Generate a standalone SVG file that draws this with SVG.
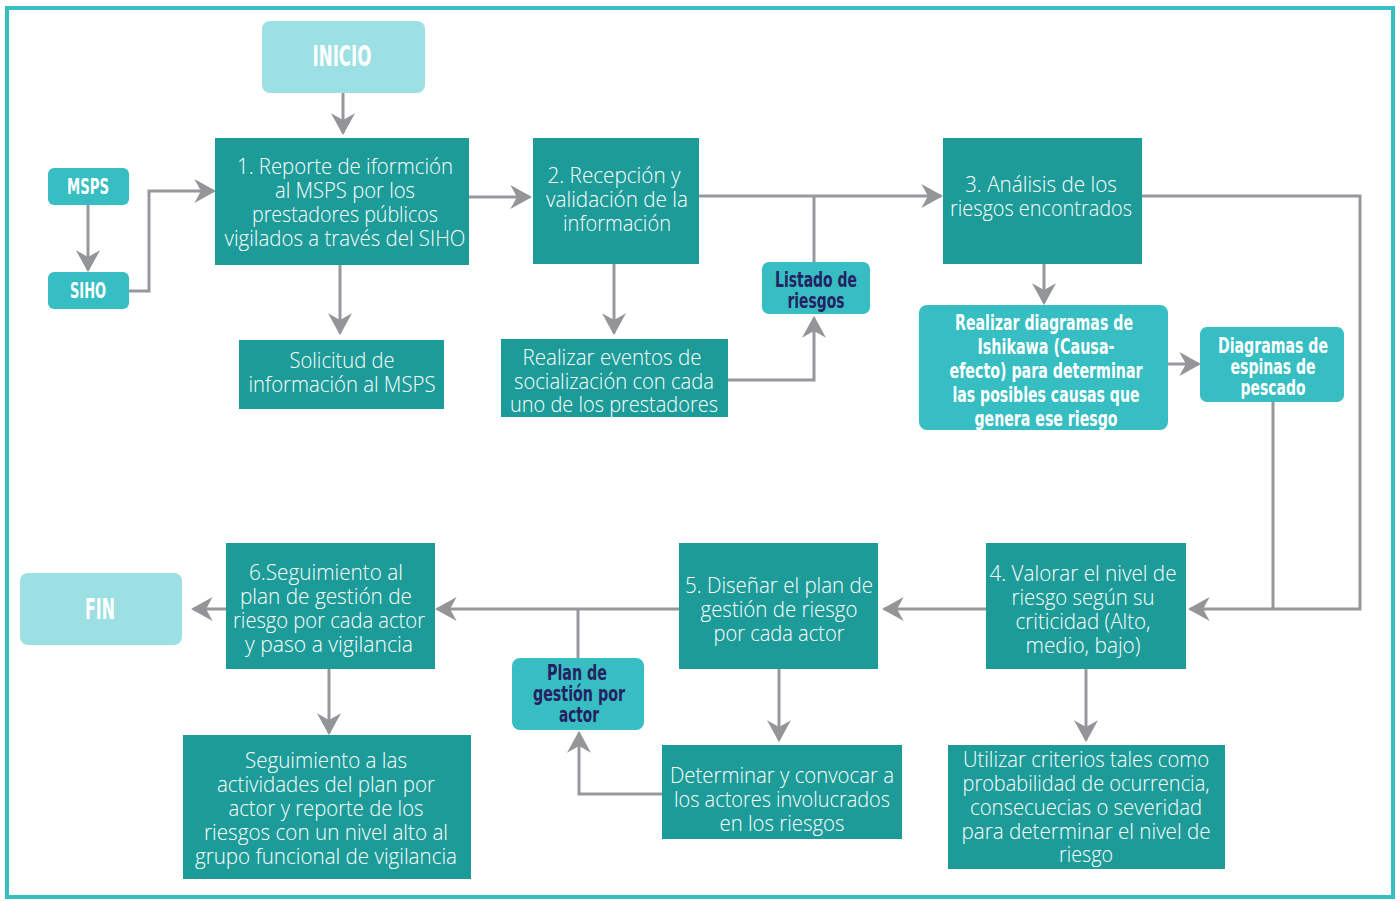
<svg xmlns="http://www.w3.org/2000/svg" width="1400" height="901" viewBox="0 0 1400 901">
<style>
.frame{fill:#fff;stroke:#36bec2;stroke-width:4}
.dk{fill:#1c9b98}
.md{fill:#36bec2}
.lt{fill:#9de0e3}
.t{font-family:"Open Sans","Liberation Sans",sans-serif;font-weight:300;font-size:22px;fill:#fff;text-anchor:middle}
.b{font-family:"DejaVu Sans Condensed","DejaVu Sans","Liberation Sans",sans-serif;font-weight:700;font-size:21px;fill:#fff;text-anchor:middle}
.n{fill:#262262}
.big{font-size:29px}
.c{fill:none;stroke:#97989b;stroke-width:3}
</style>
<defs>
<marker id="ah" markerUnits="userSpaceOnUse" markerWidth="22" markerHeight="24" viewBox="0 0 20 22" refX="18" refY="11" orient="auto">
<path d="M0,0 L20,11 L0,22 L6,11 z" fill="#939598"/>
</marker>
</defs>
<rect class="frame" x="7" y="8" width="1386" height="889"/>

<g id="connectors">
<path class="c" d="M343,76 V133" marker-end="url(#ah)"/>
<path class="c" d="M88,205 V270" marker-end="url(#ah)"/>
<path class="c" d="M129,291 H149 V191 H214" marker-end="url(#ah)"/>
<path class="c" d="M340,265 V333" marker-end="url(#ah)"/>
<path class="c" d="M469,197 H530" marker-end="url(#ah)"/>
<path class="c" d="M699,196 H941" marker-end="url(#ah)"/>
<path class="c" d="M814,196 V262"/>
<path class="c" d="M614,264 V333" marker-end="url(#ah)"/>
<path class="c" d="M728,380 H814 V318" marker-end="url(#ah)"/>
<path class="c" d="M1142,196 H1360 V609 H1190" marker-end="url(#ah)"/>
<path class="c" d="M1044,264 V303" marker-end="url(#ah)"/>
<path class="c" d="M1168,364 H1199" marker-end="url(#ah)"/>
<path class="c" d="M1273,402 V609"/>
<path class="c" d="M1086,669 V740" marker-end="url(#ah)"/>
<path class="c" d="M986,609 H884" marker-end="url(#ah)"/>
<path class="c" d="M679,609 H437" marker-end="url(#ah)"/>
<path class="c" d="M578,609 V658"/>
<path class="c" d="M779,669 V740" marker-end="url(#ah)"/>
<path class="c" d="M662,794 H579 V733" marker-end="url(#ah)"/>
<path class="c" d="M226,609 H193" marker-end="url(#ah)"/>
<path class="c" d="M329,669 V733" marker-end="url(#ah)"/>
</g>

<g id="inicio">
<rect class="lt" x="262" y="21" width="163" height="72" rx="8"/>
<text class="b big" x="342" y="66" textLength="59" lengthAdjust="spacingAndGlyphs">INICIO</text>
</g>
<g id="msps">
<rect class="md" x="48" y="168" width="81" height="37" rx="6"/>
<text class="b" x="88" y="194" textLength="42" lengthAdjust="spacingAndGlyphs">MSPS</text>
</g>
<g id="siho">
<rect class="md" x="48" y="272" width="81" height="37" rx="6"/>
<text class="b" x="88" y="298" textLength="36" lengthAdjust="spacingAndGlyphs">SIHO</text>
</g>
<g id="paso1">
<rect class="dk" x="215" y="138" width="254" height="127"/>
<text class="t" x="345" y="174" textLength="216" lengthAdjust="spacingAndGlyphs">1. Reporte de iformción</text>
<text class="t" x="345" y="198" textLength="140" lengthAdjust="spacingAndGlyphs">al MSPS por los</text>
<text class="t" x="345" y="222" textLength="186" lengthAdjust="spacingAndGlyphs">prestadores públicos</text>
<text class="t" x="345" y="246" textLength="241" lengthAdjust="spacingAndGlyphs">vigilados a través del SIHO</text>
</g>
<g id="solicitud">
<rect class="dk" x="239" y="340" width="205" height="69"/>
<text class="t" x="342" y="368" textLength="105" lengthAdjust="spacingAndGlyphs">Solicitud de</text>
<text class="t" x="342" y="392" textLength="187" lengthAdjust="spacingAndGlyphs">información al MSPS</text>
</g>
<g id="paso2">
<rect class="dk" x="533" y="138" width="166" height="126"/>
<text class="t" x="614" y="183" textLength="133" lengthAdjust="spacingAndGlyphs">2. Recepción y</text>
<text class="t" x="617" y="207" textLength="142" lengthAdjust="spacingAndGlyphs">validación de la</text>
<text class="t" x="617" y="231" textLength="108" lengthAdjust="spacingAndGlyphs">información</text>
</g>
<g id="eventos">
<rect class="dk" x="501" y="339" width="227" height="78"/>
<text class="t" x="612" y="365" textLength="179" lengthAdjust="spacingAndGlyphs">Realizar eventos de</text>
<text class="t" x="614" y="389" textLength="200" lengthAdjust="spacingAndGlyphs">socialización con cada</text>
<text class="t" x="614" y="412" textLength="208" lengthAdjust="spacingAndGlyphs">uno de los prestadores</text>
</g>
<g id="listado">
<rect class="md" x="762" y="262" width="108" height="52" rx="7"/>
<text class="b n" x="816" y="287" textLength="82" lengthAdjust="spacingAndGlyphs">Listado de</text>
<text class="b n" x="816" y="308" textLength="57" lengthAdjust="spacingAndGlyphs">riesgos</text>
</g>
<g id="paso3">
<rect class="dk" x="943" y="138" width="199" height="126"/>
<text class="t" x="1041" y="192" textLength="152" lengthAdjust="spacingAndGlyphs">3. Análisis de los</text>
<text class="t" x="1041" y="216" textLength="182" lengthAdjust="spacingAndGlyphs">riesgos encontrados</text>
</g>
<g id="ishikawa">
<rect class="md" x="919" y="305" width="249" height="125" rx="8"/>
<text class="b" x="1044" y="330" textLength="178" lengthAdjust="spacingAndGlyphs">Realizar diagramas de</text>
<text class="b" x="1046" y="354" textLength="137" lengthAdjust="spacingAndGlyphs">Ishikawa (Causa-</text>
<text class="b" x="1046" y="378" textLength="193" lengthAdjust="spacingAndGlyphs">efecto) para determinar</text>
<text class="b" x="1046" y="402" textLength="187" lengthAdjust="spacingAndGlyphs">las posibles causas que</text>
<text class="b" x="1046" y="426" textLength="143" lengthAdjust="spacingAndGlyphs">genera ese riesgo</text>
</g>
<g id="espinas">
<rect class="md" x="1200" y="327" width="144" height="75" rx="7"/>
<text class="b" x="1273" y="353" textLength="110" lengthAdjust="spacingAndGlyphs">Diagramas de</text>
<text class="b" x="1273" y="374" textLength="85" lengthAdjust="spacingAndGlyphs">espinas de</text>
<text class="b" x="1273" y="395" textLength="65" lengthAdjust="spacingAndGlyphs">pescado</text>
</g>
<g id="paso4">
<rect class="dk" x="986" y="543" width="200" height="126"/>
<text class="t" x="1083" y="581" textLength="187" lengthAdjust="spacingAndGlyphs">4. Valorar el nivel de</text>
<text class="t" x="1083" y="605" textLength="143" lengthAdjust="spacingAndGlyphs">riesgo según su</text>
<text class="t" x="1083" y="629" textLength="135" lengthAdjust="spacingAndGlyphs">criticidad (Alto,</text>
<text class="t" x="1083" y="653" textLength="115" lengthAdjust="spacingAndGlyphs">medio, bajo)</text>
</g>
<g id="criterios">
<rect class="dk" x="948" y="745" width="277" height="124"/>
<text class="t" x="1086" y="767" textLength="246" lengthAdjust="spacingAndGlyphs">Utilizar criterios tales como</text>
<text class="t" x="1086" y="791" textLength="247" lengthAdjust="spacingAndGlyphs">probabilidad de ocurrencia,</text>
<text class="t" x="1086" y="815" textLength="232" lengthAdjust="spacingAndGlyphs">consecuecias o severidad</text>
<text class="t" x="1086" y="839" textLength="249" lengthAdjust="spacingAndGlyphs">para determinar el nivel de</text>
<text class="t" x="1086" y="862" textLength="54" lengthAdjust="spacingAndGlyphs">riesgo</text>
</g>
<g id="paso5">
<rect class="dk" x="679" y="543" width="199" height="126"/>
<text class="t" x="779" y="593" textLength="188" lengthAdjust="spacingAndGlyphs">5. Diseñar el plan de</text>
<text class="t" x="779" y="617" textLength="157" lengthAdjust="spacingAndGlyphs">gestión de riesgo</text>
<text class="t" x="779" y="641" textLength="131" lengthAdjust="spacingAndGlyphs">por cada actor</text>
</g>
<g id="determinar">
<rect class="dk" x="662" y="745" width="240" height="94"/>
<text class="t" x="782" y="783" textLength="224" lengthAdjust="spacingAndGlyphs">Determinar y convocar a</text>
<text class="t" x="782" y="807" textLength="216" lengthAdjust="spacingAndGlyphs">los actores involucrados</text>
<text class="t" x="782" y="831" textLength="125" lengthAdjust="spacingAndGlyphs">en los riesgos</text>
</g>
<g id="plan">
<rect class="md" x="512" y="658" width="132" height="72" rx="8"/>
<text class="b n" x="577" y="680" textLength="60" lengthAdjust="spacingAndGlyphs">Plan de</text>
<text class="b n" x="579" y="701" textLength="92" lengthAdjust="spacingAndGlyphs">gestión por</text>
<text class="b n" x="579" y="722" textLength="40" lengthAdjust="spacingAndGlyphs">actor</text>
</g>
<g id="paso6">
<rect class="dk" x="226" y="543" width="209" height="126"/>
<text class="t" x="326" y="580" textLength="154" lengthAdjust="spacingAndGlyphs">6.Seguimiento al</text>
<text class="t" x="326" y="604" textLength="172" lengthAdjust="spacingAndGlyphs">plan de gestión de</text>
<text class="t" x="329" y="628" textLength="192" lengthAdjust="spacingAndGlyphs">riesgo por cada actor</text>
<text class="t" x="329" y="652" textLength="168" lengthAdjust="spacingAndGlyphs">y paso a vigilancia</text>
</g>
<g id="seguimiento">
<rect class="dk" x="183" y="735" width="288" height="144"/>
<text class="t" x="326" y="768" textLength="162" lengthAdjust="spacingAndGlyphs">Seguimiento a las</text>
<text class="t" x="326" y="792" textLength="218" lengthAdjust="spacingAndGlyphs">actividades del plan por</text>
<text class="t" x="326" y="816" textLength="195" lengthAdjust="spacingAndGlyphs">actor y reporte de los</text>
<text class="t" x="326" y="840" textLength="244" lengthAdjust="spacingAndGlyphs">riesgos con un nivel alto al</text>
<text class="t" x="326" y="864" textLength="262" lengthAdjust="spacingAndGlyphs">grupo funcional de vigilancia</text>
</g>
<g id="fin">
<rect class="lt" x="20" y="573" width="162" height="72" rx="8"/>
<text class="b big" x="100" y="619" textLength="30" lengthAdjust="spacingAndGlyphs">FIN</text>
</g>
</svg>
